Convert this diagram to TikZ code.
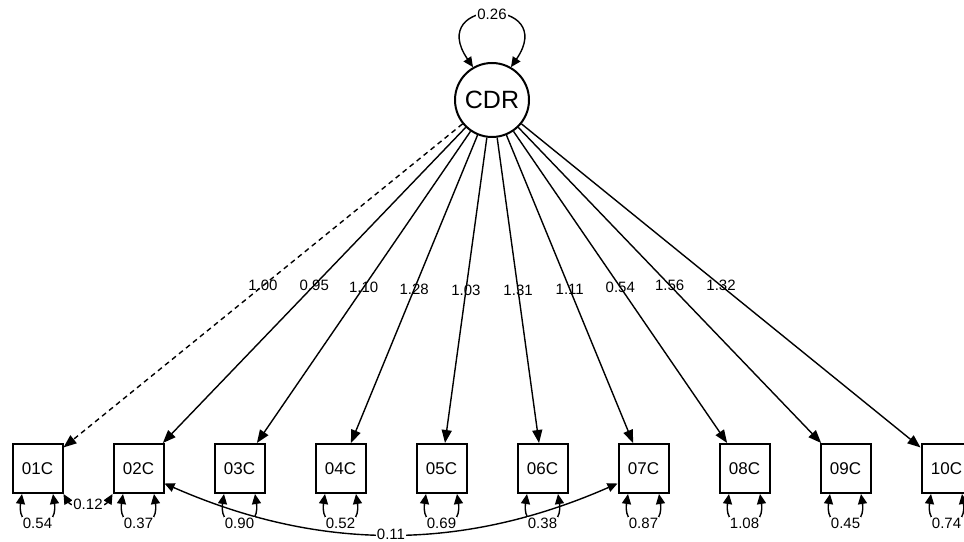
\documentclass[tikz,border=0pt]{standalone}
\usepackage{fontspec}
\setmainfont{Liberation Sans}
\usetikzlibrary{arrows.meta}

\begin{document}
\begin{tikzpicture}[x=1pt,y=1pt,
		latent/.style={circle, draw, line width=2pt, minimum size=74pt, inner sep=0pt, font=\fontsize{25}{27}\selectfont},
		manifest/.style={rectangle, draw, line width=2pt, minimum width=50pt, minimum height=49pt, inner sep=0pt, font=\fontsize{17}{19}\selectfont},
		loading/.style={line width=1.4pt, -{Triangle[length=13pt,width=10pt]}},
		resid/.style={line width=1.4pt, {Triangle[length=10pt,width=9pt]}-{Triangle[length=10pt,width=9pt]}},
		est/.style={font=\fontsize{15}{17}\selectfont, inner sep=1pt},
		estbg/.style={est, fill=white}]
				\useasboundingbox (0,0) rectangle (964,541);
				% latent factor and indicators
				\node[latent] (cdr) at (492,441) {CDR};
				\node[manifest] (x1) at (37.5,72.5) {01C};
				\node[manifest] (x2) at (138.5,72.5) {02C};
				\node[manifest] (x3) at (239.5,72.5) {03C};
				\node[manifest] (x4) at (340.5,72.5) {04C};
				\node[manifest] (x5) at (441.5,72.5) {05C};
				\node[manifest] (x6) at (542.5,72.5) {06C};
				\node[manifest] (x7) at (643.5,72.5) {07C};
				\node[manifest] (x8) at (744.5,72.5) {08C};
				\node[manifest] (x9) at (845.5,72.5) {09C};
				\node[manifest] (x10) at (946.5,72.5) {10C};
				% loadings
				\draw[loading, dash pattern=on 5pt off 4pt] (cdr) -- (x1) node[pos=0.5, est] {1.00};
				\draw[loading] (cdr) -- (x2) node[pos=0.5, est] {0.95};
				\draw[loading] (cdr) -- (x3) node[pos=0.5, est] {1.10};
				\draw[loading] (cdr) -- (x4) node[pos=0.5, est] {1.28};
				\draw[loading] (cdr) -- (x5) node[pos=0.5, est] {1.03};
				\draw[loading] (cdr) -- (x6) node[pos=0.5, est] {1.31};
				\draw[loading] (cdr) -- (x7) node[pos=0.5, est] {1.11};
				\draw[loading] (cdr) -- (x8) node[pos=0.5, est] {0.54};
				\draw[loading] (cdr) -- (x9) node[pos=0.5, est] {1.56};
				\draw[loading] (cdr) -- (x10) node[pos=0.5, est] {1.32};
				% residual covariances
				\draw[resid] (x1.south east) .. controls +(8,-14) and +(-8,-14) .. (x2.south west) node[pos=0.5, estbg] {0.12};
				\draw[resid] (x2.-30) .. controls +(155,-68) and +(-155,-68) .. (x7.210) node[pos=0.5, estbg] {0.11};
				% variances
				\draw[resid] (cdr.120) .. controls +(-48,70) and +(48,70) .. (cdr.60) node[pos=0.5, estbg] {0.26};
				\draw[resid] ([xshift=-15.5pt]x1.south) .. controls +(-6,-39) and +(6,-39) .. ([xshift=15.5pt]x1.south) node[pos=0.5, estbg] {0.54};
				\draw[resid] ([xshift=-15.5pt]x2.south) .. controls +(-6,-39) and +(6,-39) .. ([xshift=15.5pt]x2.south) node[pos=0.5, estbg] {0.37};
				\draw[resid] ([xshift=-15.5pt]x3.south) .. controls +(-6,-39) and +(6,-39) .. ([xshift=15.5pt]x3.south) node[pos=0.5, estbg] {0.90};
				\draw[resid] ([xshift=-15.5pt]x4.south) .. controls +(-6,-39) and +(6,-39) .. ([xshift=15.5pt]x4.south) node[pos=0.5, estbg] {0.52};
				\draw[resid] ([xshift=-15.5pt]x5.south) .. controls +(-6,-39) and +(6,-39) .. ([xshift=15.5pt]x5.south) node[pos=0.5, estbg] {0.69};
				\draw[resid] ([xshift=-15.5pt]x6.south) .. controls +(-6,-39) and +(6,-39) .. ([xshift=15.5pt]x6.south) node[pos=0.5, estbg] {0.38};
				\draw[resid] ([xshift=-15.5pt]x7.south) .. controls +(-6,-39) and +(6,-39) .. ([xshift=15.5pt]x7.south) node[pos=0.5, estbg] {0.87};
				\draw[resid] ([xshift=-15.5pt]x8.south) .. controls +(-6,-39) and +(6,-39) .. ([xshift=15.5pt]x8.south) node[pos=0.5, estbg] {1.08};
				\draw[resid] ([xshift=-15.5pt]x9.south) .. controls +(-6,-39) and +(6,-39) .. ([xshift=15.5pt]x9.south) node[pos=0.5, estbg] {0.45};
				\draw[resid] ([xshift=-15.5pt]x10.south) .. controls +(-6,-39) and +(6,-39) .. ([xshift=15.5pt]x10.south) node[pos=0.5, estbg] {0.74};
		\end{tikzpicture}
\end{document}
